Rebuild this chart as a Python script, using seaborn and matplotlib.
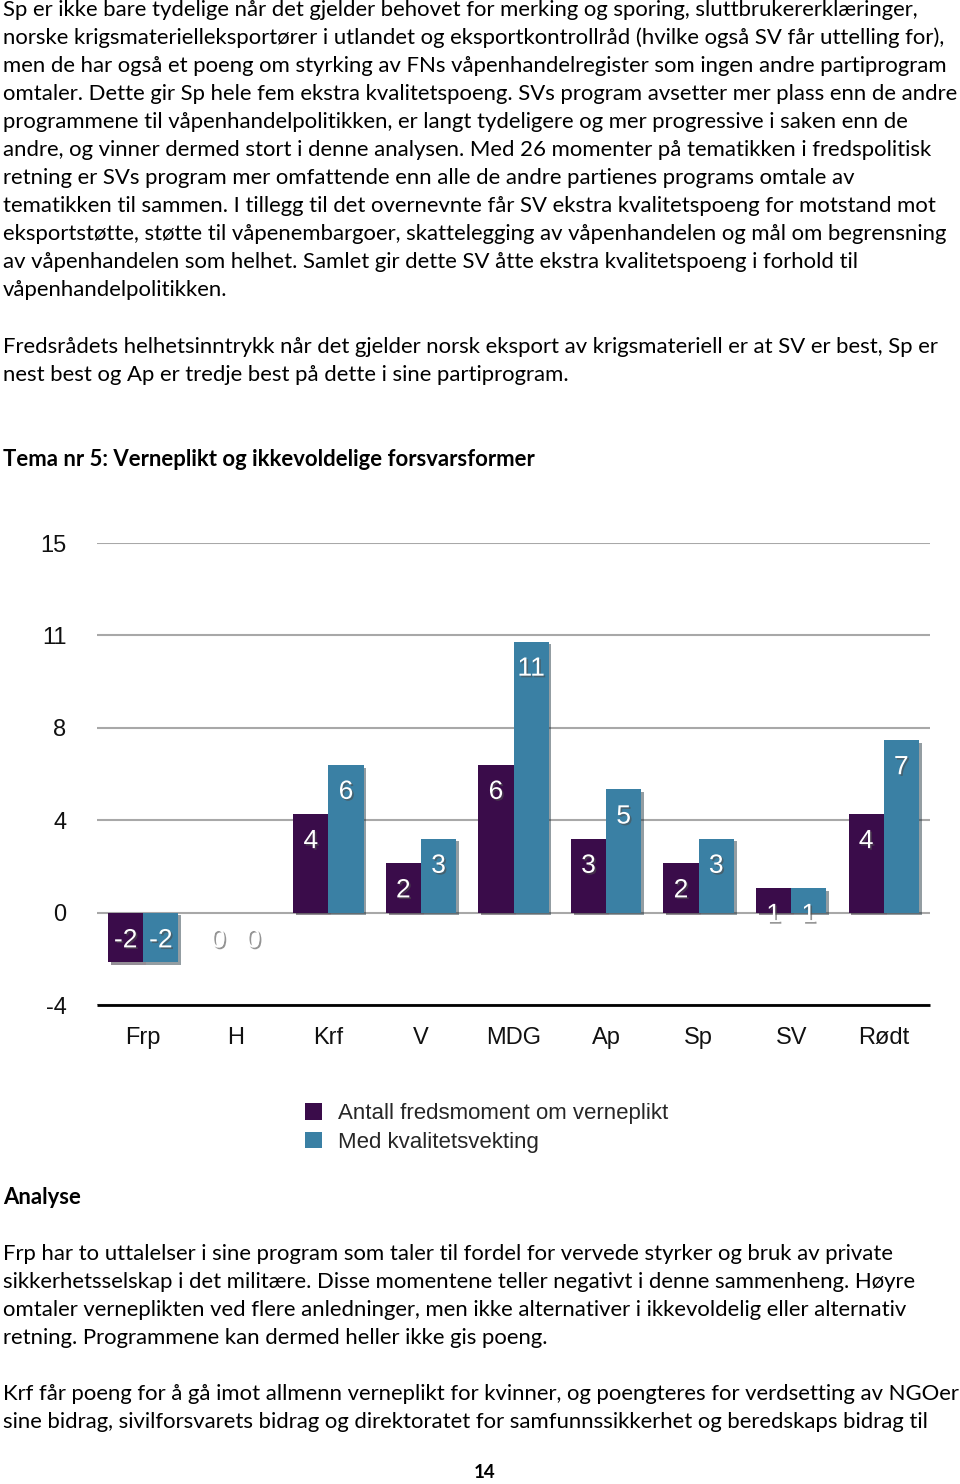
import pandas as pd
import matplotlib as mpl
import matplotlib.pyplot as plt
import matplotlib.patheffects as pe
from matplotlib.patches import Patch
import seaborn as sns

# Chart data
parties = ["Frp", "H", "Krf", "V", "MDG", "Ap", "Sp", "SV", "Rødt"]
moments = [-2, 0, 4, 2, 6, 3, 2, 1, 4]
weighted = [-2, 0, 6, 3, 11, 5, 3, 1, 7]
series = ["Antall fredsmoment om verneplikt", "Med kvalitetsvekting"]
colors = ["#3a0c4a", "#3a80a4"]
y_ticks = [-3.75, 0, 3.75, 7.5, 11.25, 15]
y_tick_labels = ["-4", "0", "4", "8", "11", "15"]

# Page text
intro_lines = [
    "Sp er ikke bare tydelige når det gjelder behovet for merking og sporing, sluttbrukererklæringer,",
    "norske krigsmaterielleksportører i utlandet og eksportkontrollråd (hvilke også SV får uttelling for),",
    "men de har også et poeng om styrking av FNs våpenhandelregister som ingen andre partiprogram",
    "omtaler. Dette gir Sp hele fem ekstra kvalitetspoeng. SVs program avsetter mer plass enn de andre",
    "programmene til våpenhandelpolitikken, er langt tydeligere og mer progressive i saken enn de",
    "andre, og vinner dermed stort i denne analysen. Med 26 momenter på tematikken i fredspolitisk",
    "retning er SVs program mer omfattende enn alle de andre partienes programs omtale av",
    "tematikken til sammen. I tillegg til det overnevnte får SV ekstra kvalitetspoeng for motstand mot",
    "eksportstøtte, støtte til våpenembargoer, skattelegging av våpenhandelen og mål om begrensning",
    "av våpenhandelen som helhet. Samlet gir dette SV åtte ekstra kvalitetspoeng i forhold til",
    "våpenhandelpolitikken.",
]
summary_lines = [
    "Fredsrådets helhetsinntrykk når det gjelder norsk eksport av krigsmateriell er at SV er best, Sp er",
    "nest best og Ap er tredje best på dette i sine partiprogram.",
]
heading = "Tema nr 5: Verneplikt og ikkevoldelige forsvarsformer"
analysis_lines = [
    "Frp har to uttalelser i sine program som taler til fordel for vervede styrker og bruk av private",
    "sikkerhetsselskap i det militære. Disse momentene teller negativt i denne sammenheng. Høyre",
    "omtaler verneplikten ved flere anledninger, men ikke alternativer i ikkevoldelig eller alternativ",
    "retning. Programmene kan dermed heller ikke gis poeng.",
]
krf_lines = [
    "Krf får poeng for å gå imot allmenn verneplikt for kvinner, og poengteres for verdsetting av NGOer",
    "sine bidrag, sivilforsvarets bidrag og direktoratet for samfunnssikkerhet og beredskaps bidrag til",
]

sns.set_theme(style="white")
plt.rcParams["font.family"] = ["Lato", "DejaVu Sans"]
chart_font = "Liberation Sans"
body_size = 15.9

W, H = 960, 1484
fig = plt.figure(figsize=(W / 100, H / 100), dpi=100)


def put(x, y, s, **kw):
    fig.text(x / W, 1 - y / H, s, va="center", ha="left", color="black", **kw)


def paragraph(lines, y0, step=28, **kw):
    for i, line in enumerate(lines):
        put(3, y0 + i * step, line, fontsize=body_size, **kw)


paragraph(intro_lines, 10)
paragraph(summary_lines, 347)
put(3, 459, heading, fontsize=body_size, fontweight="bold")
put(3, 1198, "Analyse", fontsize=body_size, fontweight="bold")
paragraph(analysis_lines, 1254)
paragraph(krf_lines, 1394)
fig.text(485 / W, 1 - 1472 / H, "14", ha="center", va="center",
         fontsize=13.5, fontweight="bold", color="black")

# Bar chart
df = pd.DataFrame({
    "parti": parties * 2,
    "verdi": moments + weighted,
    "serie": [series[0]] * len(parties) + [series[1]] * len(parties),
})

ax = fig.add_axes([97 / W, (H - 1005) / H, (930 - 97) / W, (1005 - 543) / H])
sns.barplot(data=df, x="parti", y="verdi", hue="serie", palette=colors,
            width=0.76, gap=0, saturation=1, legend=False, ax=ax)

ax.set_xlim(-0.5, len(parties) - 0.5)
ax.set_ylim(y_ticks[0], y_ticks[-1])
ax.set_yticks(y_ticks, y_tick_labels)
ax.yaxis.grid(True, color="#a8a8a8", lw=1.5)
ax.set_axisbelow(True)
for side in ["left", "top", "right"]:
    ax.spines[side].set_visible(False)
ax.spines["bottom"].set_color("black")
ax.spines["bottom"].set_linewidth(2)
ax.spines["bottom"].set_capstyle("butt")
ax.set_xlabel("")
ax.set_ylabel("")
ax.tick_params(axis="y", length=0, pad=22, labelsize=17, labelcolor="#111111")
ax.tick_params(axis="x", length=0, pad=16, labelsize=17, labelcolor="#111111")
for lbl in ax.get_xticklabels() + ax.get_yticklabels():
    lbl.set_fontfamily(chart_font)

shadow = [pe.SimplePatchShadow(offset=(2, -2), alpha=0.45), pe.Normal()]
text_shadow = [pe.SimplePatchShadow(offset=(1.2, -1.2), alpha=0.6), pe.Normal()]

# Value labels inside the bars
for cont, values in zip(ax.containers, [moments, weighted]):
    for bar, v in zip(cont, values):
        bar.set_linewidth(0)
        bar.set_path_effects(shadow)
        xc = bar.get_x() + bar.get_width() / 2
        anchor = v if v > 0 else 0
        dy = -19.5 if v > 0 else -20
        ax.annotate(str(v), (xc, anchor), xytext=(0, dy), textcoords="offset points",
                    ha="center", va="center", fontsize=19, color="white",
                    family=chart_font, path_effects=text_shadow)

handles = [Patch(facecolor=c, edgecolor="none") for c in colors]
fig.legend(handles, series, loc="center left", bbox_to_anchor=(285 / W, 1 - 1128 / H),
           frameon=False, prop={"family": chart_font, "size": 16},
           handlelength=0.75, handleheight=0.75, handletextpad=0.75, labelspacing=0.33)

fig.savefig("out.png", dpi=100)
